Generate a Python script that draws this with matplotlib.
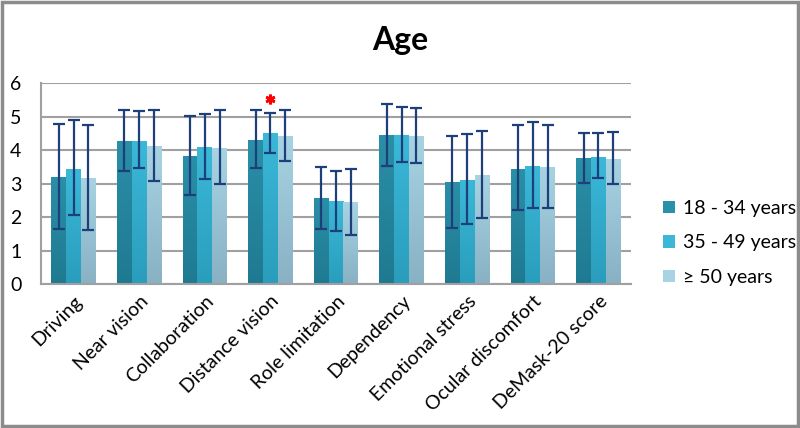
import numpy as np
import matplotlib
matplotlib.use("Agg")
import matplotlib.pyplot as plt
from matplotlib.colors import LinearSegmentedColormap
from matplotlib.patches import Rectangle

plt.rcParams['font.family'] = ['Lato', 'DejaVu Sans']

categories = ["Driving", "Near vision", "Collaboration", "Distance vision",
              "Role limitation", "Dependency", "Emotional stress",
              "Ocular discomfort", "DeMask-20 score"]
groups = ["18 - 34 years", "35 - 49 years", "\u2265 50 years"]

# means and error bar ends
means = [
    [3.20, 4.28, 3.83, 4.31, 2.58, 4.45, 3.05, 3.45, 3.75],
    [3.45, 4.28, 4.08, 4.51, 2.47, 4.45, 3.12, 3.53, 3.80],
    [3.17, 4.11, 4.05, 4.42, 2.44, 4.42, 3.26, 3.51, 3.73],
]
upper = [
    [4.77, 5.21, 5.01, 5.19, 3.51, 5.38, 4.43, 4.75, 4.50],
    [4.91, 5.16, 5.08, 5.11, 3.38, 5.30, 4.47, 4.84, 4.50],
    [4.74, 5.21, 5.19, 5.19, 3.44, 5.27, 4.58, 4.75, 4.53],
]
lower = [
    [1.65, 3.38, 2.65, 3.46, 1.65, 3.54, 1.68, 2.21, 3.03],
    [2.05, 3.46, 3.13, 3.90, 1.59, 3.63, 1.79, 2.26, 3.16],
    [1.62, 3.07, 2.99, 3.66, 1.46, 3.60, 1.96, 2.26, 2.99],
]
star_cat = "Distance vision"
star_group = 1
star_y = 5.53

# top / bottom colours of the bar gradients
top_cols = ["#2a8fa8", "#3bb8d8", "#a8d3e3"]
bot_cols = ["#1f7a91", "#2a9dbc", "#88b2c4"]

fig = plt.figure(figsize=(8, 4.28), dpi=100)
ax = fig.add_axes([0.051, 0.336, 0.738, 0.470])

x = np.arange(len(categories))
w = 0.225
grad = np.linspace(1, 0, 64).reshape(-1, 1)
for i, g in enumerate(groups):
    m = np.array(means[i])
    up = np.array(upper[i]) - m
    lo = m - np.array(lower[i])
    xs = x + (i - 1) * w
    bars = ax.bar(xs, m, w, color=top_cols[i], label=g, zorder=2)
    cmap = LinearSegmentedColormap.from_list("g%d" % i, [bot_cols[i], top_cols[i]])
    for b in bars:
        x0, y0 = b.get_x(), b.get_y()
        im = ax.imshow(grad, cmap=cmap, aspect="auto", zorder=2.1,
                       extent=[x0, x0 + b.get_width(), y0, y0 + b.get_height()])
        im.set_clip_path(b)
    ax.errorbar(xs, m, yerr=[lo, up], fmt="none", ecolor="#1d3f7a",
                elinewidth=1.6, capsize=4, capthick=1.6, zorder=3)

si = categories.index(star_cat)
ax.plot(x[si] + (star_group - 1) * w, star_y, marker=(6, 2, 0), color="red",
        markersize=7, markeredgewidth=2, zorder=4)

ax.set_xlim(-0.5, len(categories) - 0.5)
ax.set_ylim(0, 6)
ax.set_yticks(range(7))
ax.tick_params(axis="y", labelsize=14, length=0, pad=14)
ax.tick_params(axis="x", length=0, pad=6)
ax.set_xticks(x)
ax.set_xticklabels(categories, rotation=45, ha="right", rotation_mode="anchor",
                   fontsize=14)
ax.yaxis.grid(True, color="#a0a0a0", linewidth=1.5, zorder=0)
ax.set_axisbelow(True)
for s in ["top", "right"]:
    ax.spines[s].set_visible(False)
for s in ["left", "bottom"]:
    ax.spines[s].set_color("#a0a0a0")
    ax.spines[s].set_linewidth(1.5)

fig.text(0.5, 0.905, "Age", fontsize=23, fontweight="bold", ha="center", va="center")

ax.legend(loc="center left", bbox_to_anchor=(1.025, 0.205), frameon=False,
          fontsize=14, handlelength=0.6, handleheight=0.6, labelspacing=0.9,
          handletextpad=0.4)

fig.patches.append(Rectangle((0.003, 0.004), 0.994, 0.992, transform=fig.transFigure,
                             fill=False, edgecolor="#8c8c8c", linewidth=2.5))

fig.savefig("out.png", dpi=100)
